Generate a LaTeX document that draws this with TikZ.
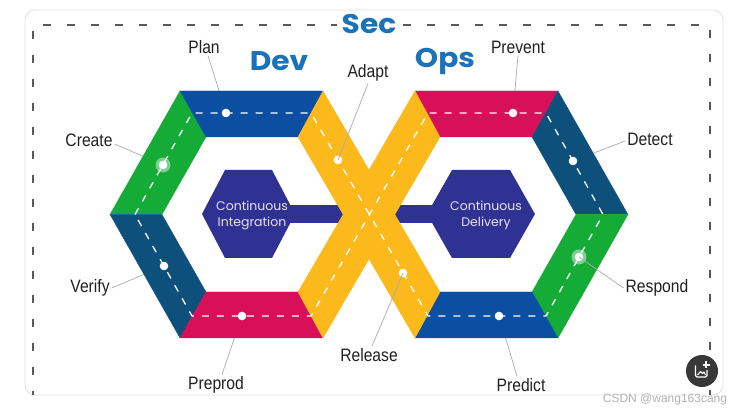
\documentclass[tikz,border=0pt]{standalone}
\usepackage{fontspec}
\setmainfont{Liberation Sans}
\newfontfamily\lblfont[FakeStretch=0.87]{Liberation Sans}
\newfontfamily\geofont{Poppins}
\newfontfamily\titlefont[FakeStretch=1.1]{Poppins}
\usetikzlibrary{calc}
\definecolor{cblue}{HTML}{0B4FA2}
\definecolor{cgreen}{HTML}{14AC36}
\definecolor{cteal}{HTML}{0C507B}
\definecolor{cpink}{HTML}{D8105A}
\definecolor{cyellow}{HTML}{FBB91C}
\definecolor{cindigo}{HTML}{2F3193}
\definecolor{ctitle}{HTML}{1B72B8}
\definecolor{clbl}{HTML}{202020}
\definecolor{cline}{HTML}{ABABAB}
\definecolor{chex}{HTML}{E4E4F4}
\tikzset{
  band/.style={fill=#1, draw=#1, line width=0.3pt},
  lbl/.style={text=clbl, font=\lblfont\fontsize{18}{20}\selectfont, inner sep=2pt},
  ttl/.style={text=ctitle, font=\titlefont\bfseries\fontsize{27}{29}\selectfont, inner sep=1pt},
  hextext/.style={text=chex, font=\geofont\fontsize{12.5}{16}\selectfont, align=center, inner sep=0pt},
  callout/.style={draw=cline, line width=0.7pt},
  roadline/.style={draw=white, line width=1.3pt, dash pattern=on 7pt off 8pt},
  dot/.style={fill=white},
  dashframe/.style={draw=black!65, line width=1.6pt, dash pattern=on 8pt off 16pt}
}
\begin{document}
\begin{tikzpicture}[x=1pt,y=-1pt]
\useasboundingbox (0,0) rectangle (745,411);
\fill[white] (0,0) rectangle (745,411);
% card
\draw[draw=black!12, line width=0.8pt, rounded corners=10pt, fill=white] (25,10) rectangle (723,395);
% dashed frame
\draw[dashframe, dash phase=4pt] (33,395) -- (33,25) -- (710,25) -- (710,395);
\node[ttl, fill=white, inner xsep=5pt] (sec) at (369,24) {Sec};
\node[ttl] (dev) at (279,61) {Dev};
\node[ttl] (ops) at (445,61) {Ops};

% road centre points
\coordinate (p1) at (135,214.5);
\coordinate (p2) at (192,113);
\coordinate (p3) at (311,113);
\coordinate (p4) at (428,316);
\coordinate (p5) at (546,316);
\coordinate (p6) at (603,214.5);
\coordinate (p7) at (546,113);
\coordinate (p8) at (428,113);
\coordinate (p9) at (311,316);
\coordinate (p10) at (192,316);
% dots
\coordinate (dplan) at (226,113);
\coordinate (dcreate) at (163,165);
\coordinate (dverify) at (164,266);
\coordinate (dpreprod) at (242,316);
\coordinate (dadapt) at (338,160);
\coordinate (drelease) at (403,273);
\coordinate (dprevent) at (513,113);
\coordinate (ddetect) at (573,161);
\coordinate (drespond) at (579,257);
\coordinate (dpredict) at (499,316);

% labels
\node[lbl] (lplan) at (204,47) {Plan};
\node[lbl] (ladapt) at (368,73) {Adapt};
\node[lbl] (lprevent) at (518,47) {Prevent};
\node[lbl] (lcreate) at (89,140) {Create};
\node[lbl] (ldetect) at (650,139) {Detect};
\node[lbl] (lverify) at (90,288) {Verify};
\node[lbl] (lrespond) at (657,288) {Respond};
\node[lbl] (lrelease) at (369,355) {Release};
\node[lbl] (lpreprod) at (216,385) {Preprod};
\node[lbl] (lpredict) at (521,385) {Predict};

% callouts under the bands
\draw[callout] (lplan.south) ++(4,0) -- (dplan);
\draw[callout] (lprevent.south) -- (dprevent);
\draw[callout] (lcreate.east) ++(0,4) -- (dcreate);
\draw[callout] (ldetect.west) ++(0,2) -- (ddetect);
\draw[callout] (lverify.east) -- (dverify);
\draw[callout] (lpreprod.north) ++(6,0) -- (dpreprod);
\draw[callout] (lpredict.north) ++(-4,0) -- (dpredict);

% centre hexagons and bar
\fill[cindigo] (290,205) rectangle (445,223);
\fill[cindigo] (202,214) -- (225,170) -- (272,170) -- (295,214) -- (272,258) -- (225,258) -- cycle;
\fill[cindigo] (427,214) -- (452,170) -- (510,170) -- (535,214) -- (510,258) -- (452,258) -- cycle;
\node[hextext] (ci) at (252,215) {Continuous\\Integration};
\node[hextext] (cd) at (486,215) {Continuous\\Delivery};

% left ring
\path[band=cgreen] (110,214.5) -- (180,91) -- (206,137) -- (162,214.5) -- cycle;
\path[band=cblue] (180,91) -- (323,91) -- (298,137) -- (206,137) -- cycle;
\path[band=cteal] (110,214.5) -- (162,214.5) -- (206,292) -- (180,338) -- cycle;
\path[band=cpink] (180,338) -- (206,292) -- (298,292) -- (323,338) -- cycle;
% right ring
\path[band=cpink] (415,91) -- (558,91) -- (532,137) -- (440,137) -- cycle;
\path[band=cteal] (558,91) -- (628,214.5) -- (576,214.5) -- (532,137) -- cycle;
\path[band=cgreen] (628,214.5) -- (558,338) -- (532,292) -- (576,214.5) -- cycle;
\path[band=cblue] (415,338) -- (558,338) -- (532,292) -- (440,292) -- cycle;
% crossing
\path[band=cyellow] (323,91) -- (440,292) -- (415,338) -- (298,137) -- cycle;
\path[band=cyellow] (415,91) -- (440,137) -- (323,338) -- (298,292) -- cycle;

% road centre line
\draw[roadline] (p1) -- (p2) -- (p3) -- (p4) -- (p5) -- (p6) -- (p7) -- (p8) -- (p9) -- (p10) -- cycle;

% dots
\fill[white, opacity=0.45] (dcreate) circle (7.5);
\fill[white, opacity=0.45] (drespond) circle (7.5);
\foreach \d in {dplan,dcreate,dverify,dpreprod,dadapt,drelease,dprevent,ddetect,drespond,dpredict}
  \fill[dot] (\d) circle (4.3);

% callouts over the bands
\draw[callout] (ladapt.south) -- (dadapt);
\draw[callout] (lrelease.north) ++(3,0) -- (drelease);
\draw[callout] (lrespond.west) -- (drespond);

% watermark and button
\node[text=black!30, font=\fontsize{12}{14}\selectfont, inner sep=0pt] (wm) at (665,399) {CSDN @wang163cang};
\fill[black!78] (702,371) circle (16);
\draw[white, line width=1.3pt, rounded corners=1.5pt] (695.5,365.5) -- (695.5,377) -- (707,377) -- (707,370);
\draw[white, line width=1.1pt, line join=round] (697.5,375) -- (700.5,371.5) -- (702.5,373.5) -- (704,372) -- (705.5,375);
\draw[white, line width=1.2pt] (706,361.5) -- (706,368.5) (702.5,365) -- (709.5,365);
\end{tikzpicture}
\end{document}
